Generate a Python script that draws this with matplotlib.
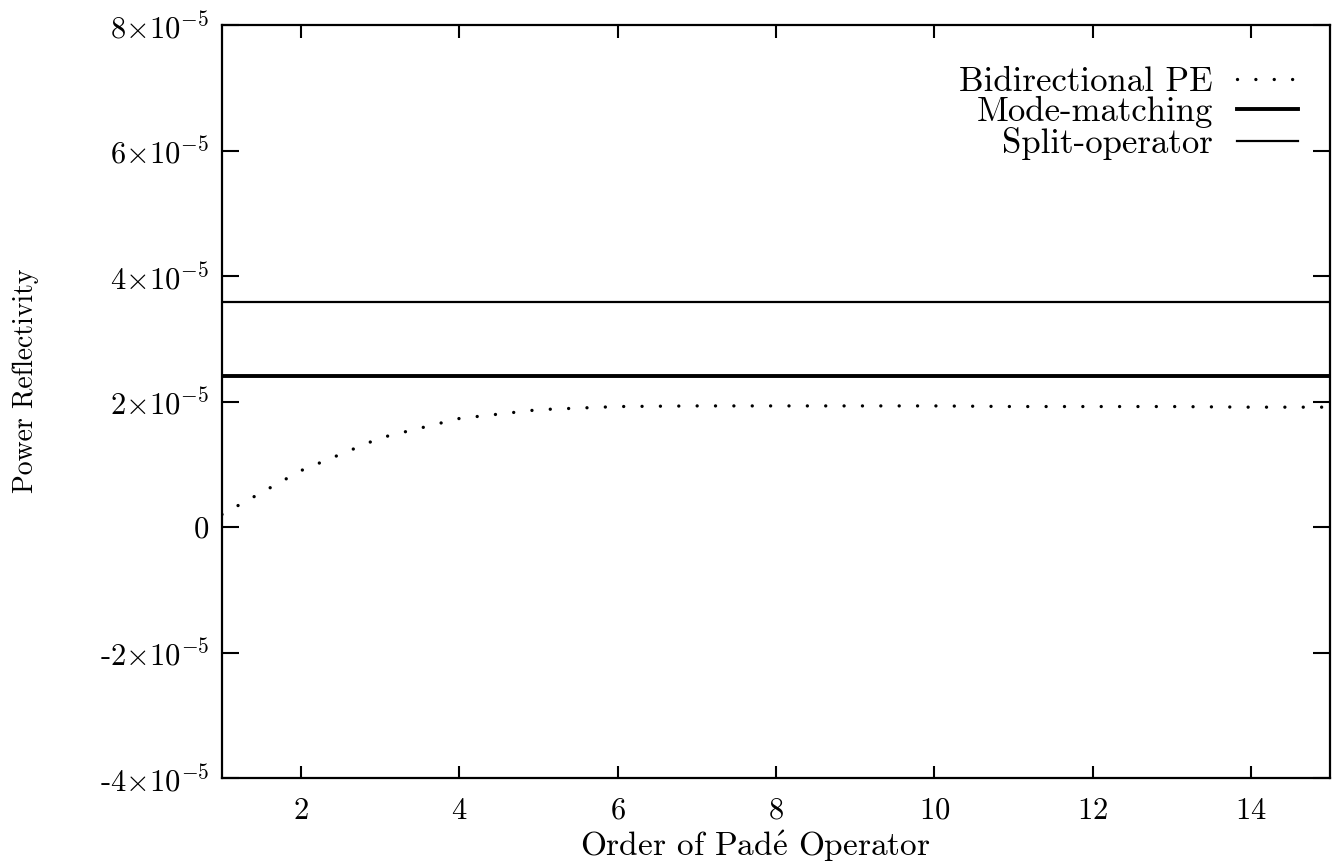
import numpy as np
import matplotlib.pyplot as plt

plt.rcParams.update({'font.size': 22,
                     'font.family': ['cmr10', 'DejaVu Serif'],
                     'mathtext.fontset': 'cm',
                     'axes.formatter.use_mathtext': True})

order = [1, 2, 3, 4, 5, 6, 7, 8, 9, 10, 11, 12, 13, 14, 15]
bidirectional = [0.20e-5, 0.90e-5, 1.42e-5, 1.73e-5, 1.87e-5, 1.92e-5, 1.93e-5, 1.93e-5,
                 1.93e-5, 1.93e-5, 1.92e-5, 1.92e-5, 1.92e-5, 1.91e-5, 1.91e-5]
mode_matching = [2.41e-5] * len(order)
split_operator = [3.58e-5] * len(order)

yticks = [-4e-5, -2e-5, 0, 2e-5, 4e-5, 6e-5, 8e-5]
ylabels = [r'-4$\times$10$^{-5}$', r'-2$\times$10$^{-5}$', '0', r'2$\times$10$^{-5}$',
           r'4$\times$10$^{-5}$', r'6$\times$10$^{-5}$', r'8$\times$10$^{-5}$']

fig = plt.figure(figsize=(13.34, 8.66), dpi=100)
ax = fig.add_axes([0.1664, 0.1016, 0.8306, 0.8695])

ax.plot(order, bidirectional, color='black', lw=2.4, linestyle=(0, (0.01, 5.5)),
        dash_capstyle='round', label='Bidirectional PE')
ax.plot(order, mode_matching, color='black', lw=2.8, label='Mode-matching')
ax.plot(order, split_operator, color='black', lw=1.6, label='Split-operator')

ax.set_xlim(1, 15)
ax.set_ylim(-4e-5, 8e-5)
ax.set_xticks(range(2, 15, 2))
ax.set_yticks(yticks)
ax.set_yticklabels(ylabels)
ax.tick_params(direction='in', width=1.5, top=True, right=True)
ax.tick_params(axis='x', length=9, pad=14)
ax.tick_params(axis='y', length=12, pad=9)
for s in ax.spines.values():
    s.set_linewidth(1.6)

ax.set_xlabel(r'Order of Pad$\acute{\mathrm{e}}$ Operator', fontsize=24)
ax.xaxis.set_label_coords(0.481, -0.067)
ax.set_ylabel('Power Reflectivity', fontsize=20)
ax.yaxis.set_label_coords(-0.165, 0.528)

leg = ax.legend(loc='upper right', frameon=False, markerfirst=False, handlelength=1.75,
                handletextpad=0.7, labelspacing=-0.05, borderaxespad=0.0, borderpad=0.0,
                fontsize=25, bbox_to_anchor=(0.971, 0.945))
for col in leg._legend_handle_box.get_children():
    col.align = 'right'

fig.savefig('out.png', dpi=100)
